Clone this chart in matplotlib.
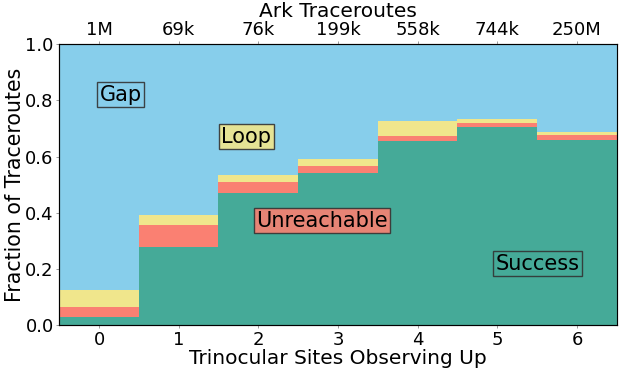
import matplotlib
matplotlib.use("Agg")
import matplotlib.pyplot as plt
import numpy as np

sites = [0, 1, 2, 3, 4, 5, 6]
ark_labels = ["1M", "69k", "76k", "199k", "558k", "744k", "250M"]
success = [0.030, 0.277, 0.471, 0.541, 0.654, 0.706, 0.658]
unreachable = [0.035, 0.081, 0.038, 0.026, 0.019, 0.013, 0.018]
loop = [0.061, 0.033, 0.025, 0.023, 0.054, 0.016, 0.012]

success = np.array(success)
unreachable = np.array(unreachable)
loop = np.array(loop)
gap = 1 - success - unreachable - loop

c_success = "#45AA98"
c_unreach = "#FA8072"
c_loop = "#F0E68C"
c_gap = "#87CEEB"

fig, ax = plt.subplots(figsize=(6.23, 3.74), dpi=100)
fig.subplots_adjust(left=0.095, right=0.99, bottom=0.13, top=0.882)

x = np.array(sites)
ax.bar(x, success, width=1.0, color=c_success)
ax.bar(x, unreachable, width=1.0, bottom=success, color=c_unreach)
ax.bar(x, loop, width=1.0, bottom=success + unreachable, color=c_loop)
ax.bar(x, gap, width=1.0, bottom=success + unreachable + loop, color=c_gap)

ax.set_xlim(-0.5, 6.5)
ax.set_ylim(0, 1.0)
ax.set_xticks(sites)
ax.set_yticks([0, 0.2, 0.4, 0.6, 0.8, 1.0])
ax.tick_params(labelsize=13, length=2, width=0.6, color="#888888", pad=2)
ax.set_xlabel("Trinocular Sites Observing Up", fontsize=14.5, labelpad=0)
ax.set_ylabel("Fraction of Traceroutes", fontsize=14.8, labelpad=0)
for s in ax.spines.values():
    s.set_color("#333333")
ax.spines["right"].set_color("#888888")

ax2 = ax.twiny()
ax2.set_xlim(ax.get_xlim())
ax2.set_xticks(sites)
ax2.set_xticklabels(ark_labels)
ax2.tick_params(labelsize=13, length=2, width=0.6, color="#888888", pad=2)
ax2.set_xlabel("Ark Traceroutes", fontsize=14.5, labelpad=2.5)

bbox = lambda c: dict(boxstyle="square,pad=0.12", facecolor=c, edgecolor="#333333", alpha=0.9)
ax.text(0.27, 0.82, "Gap", fontsize=15, ha="center", va="center", bbox=bbox(c_gap))
ax.text(1.85, 0.67, "Loop", fontsize=15, ha="center", va="center", bbox=bbox(c_loop))
ax.text(2.80, 0.372, "Unreachable", fontsize=15, ha="center", va="center", bbox=bbox(c_unreach))
ax.text(5.51, 0.22, "Success", fontsize=15, ha="center", va="center", bbox=bbox(c_success))

fig.savefig("out.png", dpi=100)
